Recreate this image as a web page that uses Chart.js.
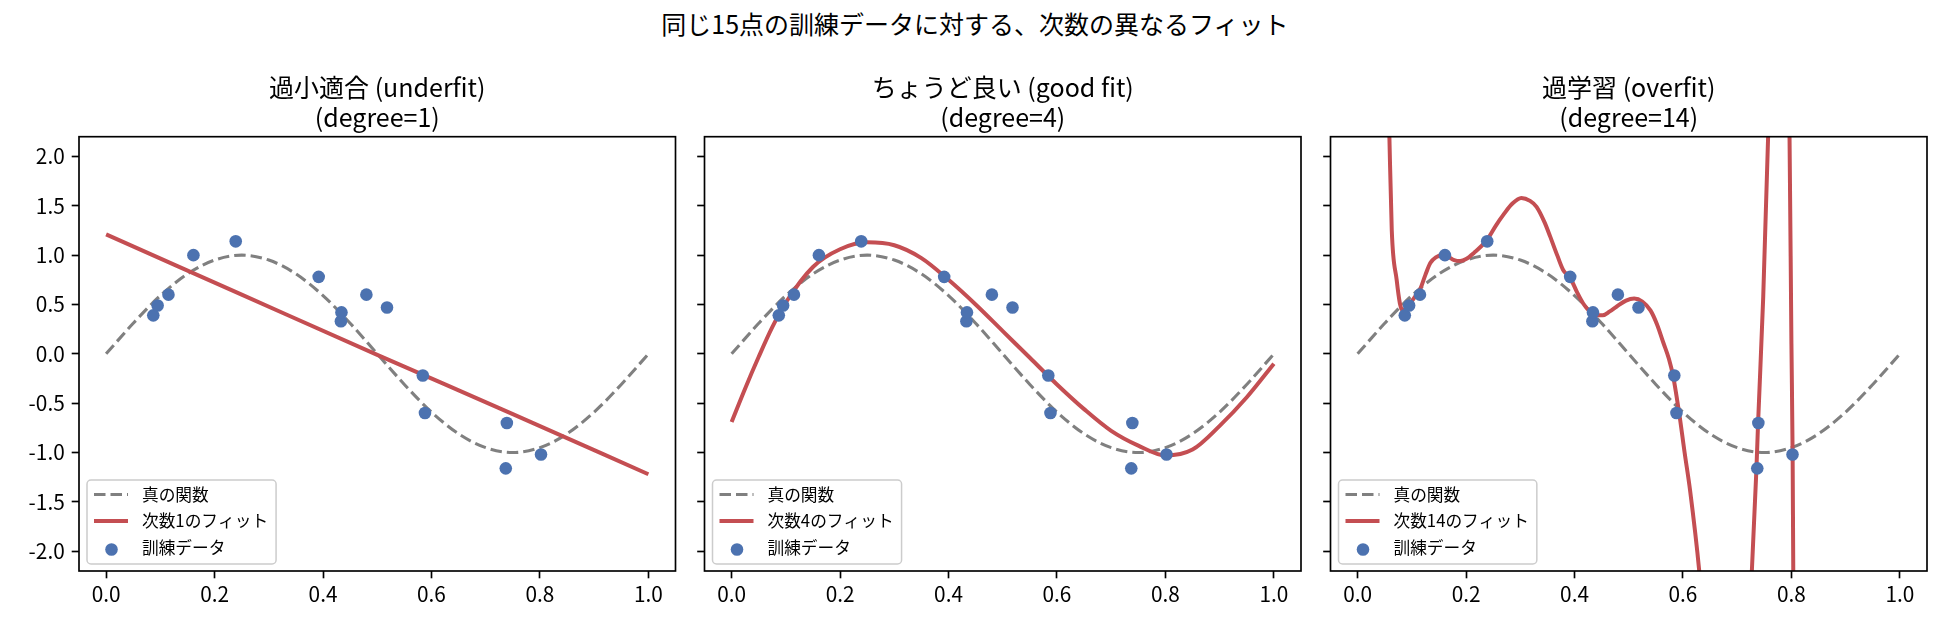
<!DOCTYPE html>
<html lang="ja">
<head>
<meta charset="utf-8">
<title>次数の異なるフィット</title>
<script src="https://cdn.jsdelivr.net/npm/chart.js@4/dist/chart.umd.min.js"></script>
<style>
  html, body { margin: 0; padding: 0; background: #fff; }
  body { width: 1950px; height: 630px; position: relative; overflow: hidden; font-family: 'Noto Sans CJK JP', sans-serif; }
  #suptitle { position: absolute; left: 0; top: 8px; width: 1950px; text-align: center; font-size: 25px; line-height: 30px; color: #000; }
  canvas { position: absolute; top: 0; }
</style>
</head>
<body>
<div id="suptitle">同じ15点の訓練データに対する、次数の異なるフィット</div>
<canvas id="c1" width="690" height="630" style="left:0px"></canvas>
<canvas id="c2" width="625" height="630" style="left:690px"></canvas>
<canvas id="c3" width="635" height="630" style="left:1315px"></canvas>
<script>
// training points (same 15 in every panel)
const trainX = [0.087, 0.095, 0.115, 0.161, 0.239, 0.392, 0.433, 0.434, 0.480, 0.518, 0.584, 0.588, 0.737, 0.739, 0.802];
const trainY = [0.39, 0.49, 0.60, 1.00, 1.14, 0.78, 0.33, 0.42, 0.60, 0.47, -0.22, -0.60, -1.16, -0.70, -1.02];

// true function (dashed grey)
const trueX = [0, 0.05, 0.1, 0.15, 0.2, 0.25, 0.3, 0.35, 0.4, 0.45, 0.5, 0.55, 0.6, 0.65, 0.7, 0.75, 0.8, 0.85, 0.9, 0.95, 1.0];
const trueY = [0.00, 0.31, 0.59, 0.81, 0.95, 1.00, 0.95, 0.81, 0.59, 0.31, 0.00, -0.31, -0.59, -0.81, -0.95, -1.00, -0.95, -0.81, -0.59, -0.31, 0.00];

// degree 1
const fit1X = [0, 0.25, 0.5, 0.75, 1.0];
const fit1Y = [1.21, 0.60, -0.01, -0.61, -1.22];

// degree 4
const fit4X = [0, 0.025, 0.05, 0.075, 0.1, 0.15, 0.2, 0.25, 0.3, 0.35, 0.4, 0.45, 0.5, 0.55, 0.6, 0.65, 0.7, 0.75, 0.8, 0.85, 0.9, 0.95, 1.0];
const fit4Y = [-0.69, -0.35, -0.03, 0.27, 0.52, 0.88, 1.06, 1.13, 1.10, 0.97, 0.75, 0.50, 0.23, -0.04, -0.31, -0.56, -0.78, -0.93, -1.03, -0.97, -0.73, -0.44, -0.10];

// degree 14 (leaves the axes several times)
const fit14X = [0, 0.03, 0.045, 0.05, 0.0586, 0.063, 0.072, 0.078, 0.083, 0.095, 0.106, 0.115, 0.125, 0.134, 0.145, 0.155, 0.165,
  0.178, 0.189, 0.2, 0.214, 0.238, 0.255, 0.269, 0.285, 0.302, 0.318, 0.33, 0.345, 0.355, 0.368, 0.379, 0.392, 0.405, 0.416,
  0.428, 0.44, 0.452, 0.465, 0.478, 0.495, 0.51, 0.525, 0.54, 0.552, 0.564, 0.574, 0.582, 0.594, 0.603, 0.613, 0.63, 0.645,
  0.675, 0.705, 0.727, 0.7355, 0.7385, 0.748, 0.757, 0.768, 0.777, 0.787, 0.7965, 0.800, 0.8022, 0.8034, 0.81, 0.9, 1.0];
const fit14Y = [50, 12, 6, 4.3, 2.2, 1.25, 0.75, 0.51, 0.44, 0.50, 0.58, 0.65, 0.80, 0.92, 0.98, 1.00, 0.99,
  0.95, 0.94, 0.96, 1.02, 1.15, 1.30, 1.41, 1.52, 1.58, 1.55, 1.49, 1.33, 1.19, 1.00, 0.85, 0.77, 0.62, 0.51,
  0.43, 0.39, 0.39, 0.43, 0.48, 0.54, 0.56, 0.53, 0.44, 0.30, 0.11, -0.05, -0.23, -0.64, -1.00, -1.38, -2.2, -3.2,
  -5, -4, -2.2, -1.16, -0.70, 0.58, 2.2, 5, 6, 5, 2.2, 0.1, -1.02, -2.2, -6, -50, -80];

const xTicks = [0, 0.2, 0.4, 0.6, 0.8, 1.0];
const yTicks = [-2, -1.5, -1, -0.5, 0, 0.5, 1, 1.5, 2];

const FONT = "'Noto Sans CJK JP', sans-serif";
Chart.defaults.font.family = FONT;
Chart.defaults.color = '#000';

const zip = (xs, ys) => xs.map((x, i) => ({ x: x, y: ys[i] }));

// axes frame (all four spines)
const framePlugin = {
  id: 'frame',
  afterDatasetsDraw(chart) {
    const { ctx, chartArea: a } = chart;
    ctx.save();
    ctx.strokeStyle = '#000';
    ctx.lineWidth = 1.67;
    ctx.strokeRect(a.left, a.top, a.right - a.left, a.bottom - a.top);
    ctx.restore();
  }
};

// matplotlib-like legend box in the lower-left corner of the axes
const boxLegend = {
  id: 'boxLegend',
  afterDraw(chart) {
    const { ctx, chartArea: a } = chart;
    const sets = chart.data.datasets.slice().sort((p, q) => q.order - p.order);
    ctx.save();
    ctx.font = '16.7px ' + FONT;
    const textW = Math.max(...sets.map(d => ctx.measureText(d.label).width));
    const w = 55 + textW + 8, h = 84;
    const x0 = a.left + 8, y0 = a.bottom - 7 - h;
    ctx.beginPath();
    ctx.roundRect(x0, y0, w, h, 4);
    ctx.fillStyle = 'rgba(255,255,255,0.8)';
    ctx.fill();
    ctx.strokeStyle = '#cccccc';
    ctx.lineWidth = 1.5;
    ctx.stroke();
    sets.forEach((d, i) => {
      const cy = y0 + 14.5 + i * 26.5;
      if (d.showLine) {
        ctx.beginPath();
        ctx.setLineDash(d.borderDash || []);
        ctx.strokeStyle = d.borderColor;
        ctx.lineWidth = d.borderWidth;
        ctx.moveTo(x0 + 7, cy);
        ctx.lineTo(x0 + 41, cy);
        ctx.stroke();
        ctx.setLineDash([]);
      } else {
        ctx.beginPath();
        ctx.arc(x0 + 24.5, cy + 2, d.pointRadius, 0, Math.PI * 2);
        ctx.fillStyle = d.backgroundColor;
        ctx.fill();
      }
      ctx.fillStyle = '#000';
      ctx.textBaseline = 'middle';
      ctx.textAlign = 'left';
      ctx.fillText(d.label, x0 + 55, cy);
    });
    ctx.restore();
  }
};

const panels = [
  { id: 'c1', title: ['過小適合 (underfit)', '(degree=1)'], fitLabel: '次数1のフィット', fitX: fit1X, fitY: fit1Y, axisWidth: 79, padRight: 14.5, yLabels: true },
  { id: 'c2', title: ['ちょうど良い (good fit)', '(degree=4)'], fitLabel: '次数4のフィット', fitX: fit4X, fitY: fit4Y, axisWidth: 14.5, padRight: 14, yLabels: false },
  { id: 'c3', title: ['過学習 (overfit)', '(degree=14)'], fitLabel: '次数14のフィット', fitX: fit14X, fitY: fit14Y, axisWidth: 15.5, padRight: 23, yLabels: false }
];

panels.forEach(p => {
  new Chart(document.getElementById(p.id), {
    type: 'scatter',
    data: {
      datasets: [
        {
          label: '真の関数',
          data: zip(trueX, trueY),
          showLine: true,
          borderColor: '#808080',
          borderWidth: 3.1,
          borderDash: [11.5, 5],
          pointRadius: 0,
          cubicInterpolationMode: 'monotone',
          clip: 0,
          order: 3
        },
        {
          label: p.fitLabel,
          data: zip(p.fitX, p.fitY),
          showLine: true,
          borderColor: '#C44E52',
          borderWidth: 4,
          pointRadius: 0,
          cubicInterpolationMode: 'monotone',
          clip: 0,
          order: 2
        },
        {
          label: '訓練データ',
          data: zip(trainX, trainY),
          showLine: false,
          backgroundColor: '#4C72B0',
          borderWidth: 0,
          pointRadius: 6.3,
          order: 1
        }
      ]
    },
    options: {
      responsive: false,
      animation: false,
      layout: { padding: { top: 0, left: 0, right: p.padRight, bottom: 0 } },
      plugins: {
        legend: { display: false },
        tooltip: { enabled: false },
        title: {
          display: true,
          text: p.title,
          fullSize: false,
          color: '#000',
          font: { size: 25, weight: 'normal', lineHeight: 1.2 },
          padding: { top: 72.5, bottom: 4.2 }
        }
      },
      scales: {
        x: {
          type: 'linear',
          min: -0.05,
          max: 1.05,
          afterBuildTicks: s => { s.ticks = xTicks.map(v => ({ value: v })); },
          afterFit: s => { s.height = 59; },
          ticks: { callback: v => v.toFixed(1), font: { size: 20.8 }, color: '#000', padding: 3.5, maxRotation: 0, autoSkip: false },
          grid: { drawOnChartArea: false, tickLength: 7.3, tickWidth: 1.67, tickColor: '#000' },
          border: { display: false }
        },
        y: {
          type: 'linear',
          min: -2.2,
          max: 2.2,
          afterBuildTicks: s => { s.ticks = yTicks.map(v => ({ value: v })); },
          afterFit: s => { s.width = p.axisWidth; },
          ticks: { display: p.yLabels, callback: v => v.toFixed(1), font: { size: 20.8 }, color: '#000', padding: 7, autoSkip: false },
          grid: { drawOnChartArea: false, tickLength: 7.3, tickWidth: 1.67, tickColor: '#000' },
          border: { display: false }
        }
      }
    },
    plugins: [framePlugin, boxLegend]
  });
});
</script>
</body>
</html>
